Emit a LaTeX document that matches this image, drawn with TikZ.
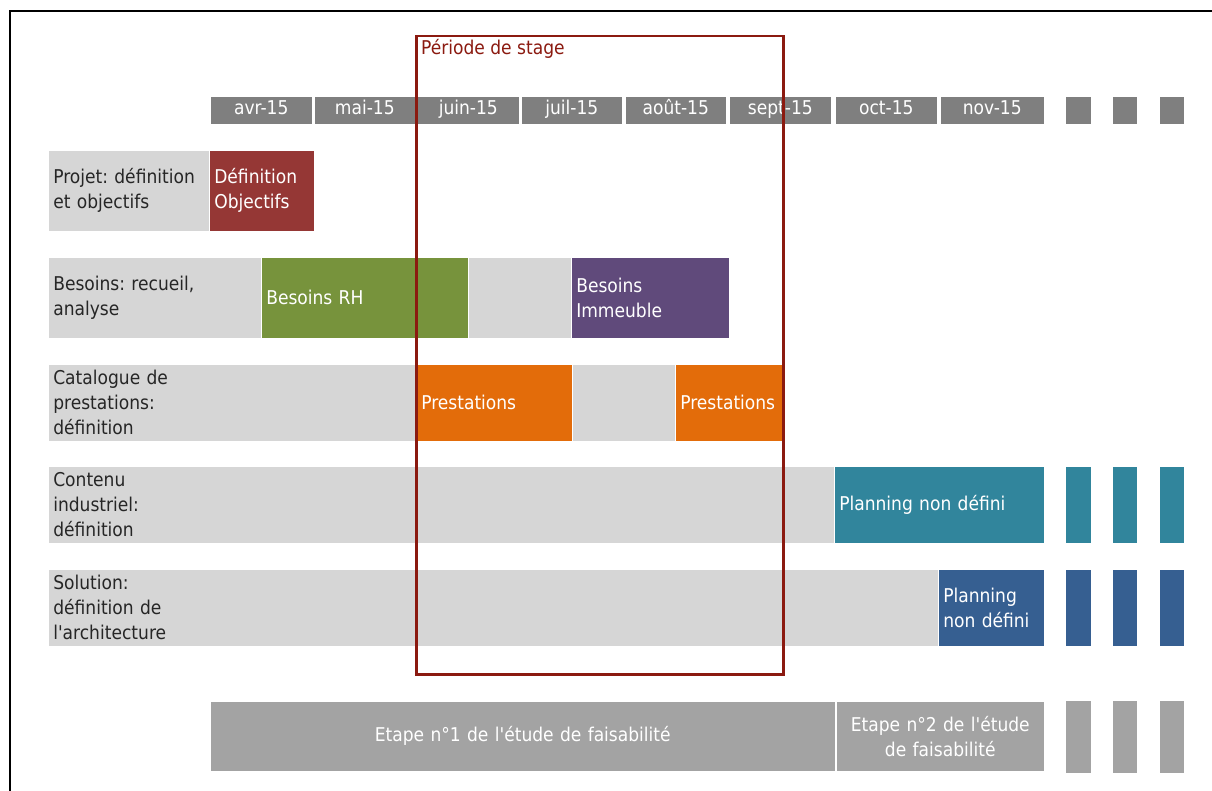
\documentclass[tikz,border=0pt]{standalone}
\usepackage{fontspec}
\setmainfont{DejaVu Sans Condensed}
\newfontfamily\tfont{DejaVu Sans Condensed}
\frenchspacing
\definecolor{hdr}{HTML}{7F7F7F}
\definecolor{lbl}{HTML}{D6D6D6}
\definecolor{lbltxt}{HTML}{262626}
\definecolor{cred}{HTML}{953735}
\definecolor{cgreen}{HTML}{77933C}
\definecolor{cpurple}{HTML}{604A7B}
\definecolor{corange}{HTML}{E36C0A}
\definecolor{cteal}{HTML}{31859C}
\definecolor{cblue}{HTML}{365F91}
\definecolor{cgray}{HTML}{A3A3A3}
\definecolor{period}{HTML}{8B1A10}
\newcommand\gbar[7]{%
  \node[bar,text width={#4pt-10pt},minimum height={#5pt},#6] (#1) at (#2,#3) {#7};}
\tikzset{
  bar/.style={rectangle,anchor=north west,inner xsep=5pt,inner ysep=0pt,
    align=left,draw=white,line width=0.6pt,
    font=\tfont\fontsize{19pt}{25pt}\selectfont},
  month/.style={fill=hdr,text=white,align=center,text height=13pt,text depth=4pt},
  lab/.style={fill=lbl,text=lbltxt},
  colbox/.style={text=white},
  etape/.style={fill=cgray,text=white,align=center},
}
\begin{document}
\begin{tikzpicture}[x=1pt,y=-1pt]
\useasboundingbox (0,0) rectangle (1212,791);
% frame
\draw[black,line width=1.5pt] (10,791) -- (10,11) -- (1212,11);
% month header
\gbar{m1}{210}{96}{102}{28}{month}{avr-15}
\gbar{m2}{314}{96}{101}{28}{month}{mai-15}
\gbar{m3}{417}{96}{102}{28}{month}{juin-15}
\gbar{m4}{521}{96}{101}{28}{month}{juil-15}
\gbar{m5}{625}{96}{101}{28}{month}{août-15}
\gbar{m6}{729}{96}{102}{28}{month}{sept-15}
\gbar{m7}{835}{96}{102}{28}{month}{oct-15}
\gbar{m8}{940}{96}{104}{28}{month}{nov-15}
\gbar{m9}{1065}{96}{26}{28}{month}{}
\gbar{m10}{1112}{96}{25}{28}{month}{}
\gbar{m11}{1159}{96}{25}{28}{month}{}
% row 1
\gbar{r1}{48}{150}{161}{81}{lab}{Projet: définition\\et objectifs}
\gbar{r1a}{209}{150}{105}{81}{colbox,fill=cred}{Définition\\Objectifs}
% row 2
\gbar{r2}{48}{257}{680}{81}{lab}{Besoins: recueil,\\analyse}
\gbar{r2a}{261}{257}{207}{81}{colbox,fill=cgreen}{Besoins RH}
\gbar{r2b}{571}{257}{158}{81}{colbox,fill=cpurple}{Besoins\\Immeuble}
% row 3
\gbar{r3}{48}{364}{733}{77}{lab}{Catalogue de\\prestations:\\définition}
\gbar{r3a}{416}{364}{156}{77}{colbox,fill=corange}{Prestations}
\gbar{r3b}{675}{364}{107}{77}{colbox,fill=corange}{Prestations}
% row 4
\gbar{r4}{48}{466}{787}{77}{lab}{Contenu\\industriel:\\définition}
\gbar{r4a}{834}{466}{210}{77}{colbox,fill=cteal}{Planning non défini}
\gbar{r4b}{1065}{466}{26}{77}{colbox,fill=cteal}{}
\gbar{r4c}{1112}{466}{25}{77}{colbox,fill=cteal}{}
\gbar{r4d}{1159}{466}{25}{77}{colbox,fill=cteal}{}
% row 5
\gbar{r5}{48}{569}{890}{77}{lab}{Solution:\\définition de\\l'architecture}
\gbar{r5a}{938}{569}{106}{77}{colbox,fill=cblue}{Planning\\non défini}
\gbar{r5b}{1065}{569}{26}{77}{colbox,fill=cblue}{}
\gbar{r5c}{1112}{569}{25}{77}{colbox,fill=cblue}{}
\gbar{r5d}{1159}{569}{25}{77}{colbox,fill=cblue}{}
% bottom stages
\gbar{e1}{210}{701}{625}{70}{etape}{Etape n°1 de l'étude de faisabilité}
\gbar{e2}{836}{701}{208}{70}{etape}{Etape n°2 de l'étude\\de faisabilité}
\gbar{e3}{1065}{700}{26}{73}{etape}{}
\gbar{e4}{1112}{700}{25}{73}{etape}{}
\gbar{e5}{1159}{700}{25}{73}{etape}{}
% internship period
\node[draw=period,line width=2.5pt,minimum width=367pt,minimum height=638pt,
  anchor=north west,inner sep=0pt] (per) at (415,35) {};
\node[anchor=north west,text=period,inner sep=0pt,
  font=\tfont\fontsize{19pt}{22pt}\selectfont] (pert) at ([xshift=6pt,yshift=-4pt]per.north west) {Période de stage};
\end{tikzpicture}
\end{document}
